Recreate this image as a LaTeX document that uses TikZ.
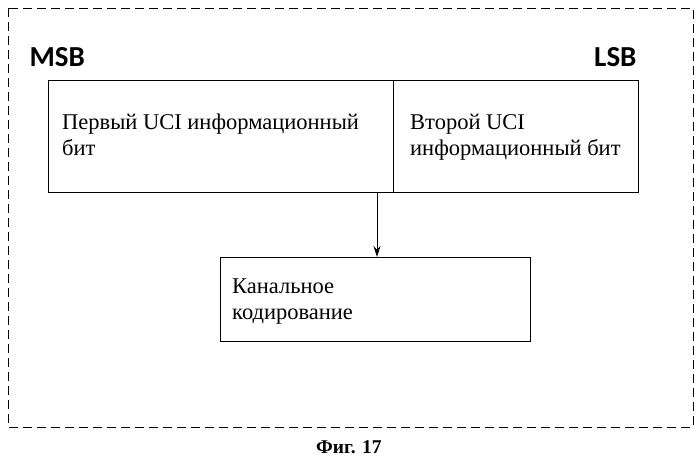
\documentclass[tikz,border=0pt]{standalone}
\usepackage{fontspec}
\setmainfont{Liberation Serif}
\newfontfamily\msbfont{Carlito}
\usetikzlibrary{arrows.meta,positioning}

\begin{document}
\begin{tikzpicture}
      [x = 1pt, y = -1pt,
      frame/.style = {draw, line width = 1pt, dash pattern = on 9pt off 5pt},
      bitbox/.style = {
         draw,
         line width = 1pt,
         inner sep = 0pt
      },
      txt/.style = {
         align = left,
         anchor = north west,
         inner sep = 0pt,
         font = \fontsize{22.5}{26}\selectfont
      },
      sig/.style = {font = \msbfont\bfseries\fontsize{29}{30}\selectfont},
      flow/.style = {-{Stealth[length = 11pt, width = 7pt]}, line width = 1pt}]

      \useasboundingbox (0, 0) rectangle (699, 466);
      \draw[frame] (8, 8) rectangle (693, 427);

      \node[sig, anchor = base west] (msb) at (26, 66) {MSB};
      \node[sig, anchor = base east] (lsb) at (640, 66) {LSB};

      \draw[bitbox] (48, 80) rectangle (638, 192);
      \draw[line width = 1pt] (393, 80) -- (393, 192);
      \node[txt] (first) at (62, 114) {Первый UCI информационный\\бит};
      \node[txt] (second) at (410, 114) {Второй UCI\\информационный бит};

      \coordinate (split) at (377, 192);
      \node[bitbox, minimum width = 310pt, minimum height = 84pt, anchor = north west] (chan) at (220, 257) {};
      \node[txt] (chantxt) at (232, 279) {Канальное\\кодирование};
      \draw[flow] (split) -- (split |- chan.north);

      \node[font = \bfseries\fontsize{19.5}{22}\selectfont] (fig) at (349, 447) {Фиг. 17};

\end{tikzpicture}
\end{document}
